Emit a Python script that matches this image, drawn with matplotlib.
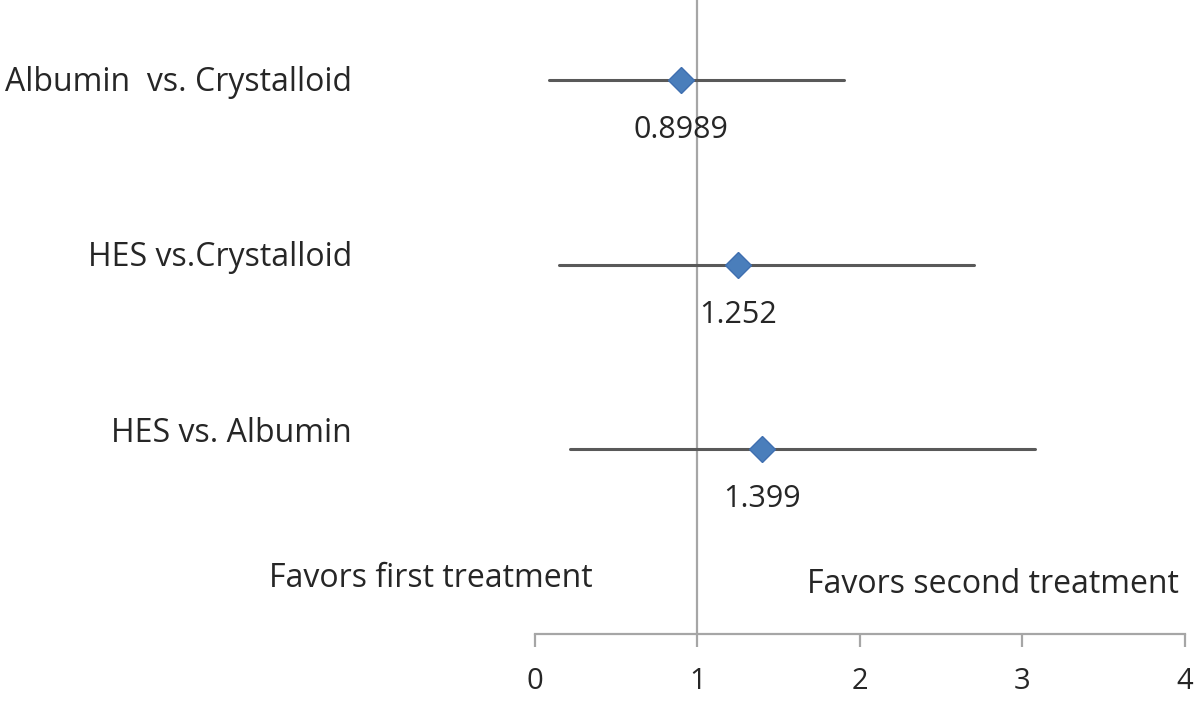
import matplotlib.pyplot as plt

# Forest plot data (odds ratio with 95% CI)
comparisons = ['Albumin  vs. Crystalloid', 'HES vs.Crystalloid', 'HES vs. Albumin']
estimates = [0.8989, 1.252, 1.399]
lower_ci = [0.086, 0.148, 0.215]
upper_ci = [1.90, 2.70, 3.08]
value_labels = ['0.8989', '1.252', '1.399']
rows = [3, 2, 1]
x_ticks = [0, 1, 2, 3, 4]

plt.rcParams['font.family'] = ['Open Sans', 'DejaVu Sans']

fig = plt.figure(figsize=(12, 7.02), dpi=100)
ax = fig.add_axes([0.4458, 0.0969, 0.5417, 0.9031])

# reference line at 1
ax.axvline(1, color='#a6a6a6', lw=1.6, zorder=1)

# confidence intervals and point estimates
for y, est, lo, hi, lab in zip(rows, estimates, lower_ci, upper_ci, value_labels):
    ax.plot([lo, hi], [y, y], color='#595959', lw=2.2, solid_capstyle='round', zorder=2)
    ax.plot(est, y, marker='D', ms=13, color='#4a7ebb', mec='#3f6fb0', zorder=3)
    ax.annotate(lab, (est, y), xytext=(0, -36), textcoords='offset points',
                ha='center', va='center', fontsize=22, color='#262626')

# row labels to the left of the plot
label_y = [2.989, 2.038, 1.087]
for name, y in zip(comparisons, label_y):
    ax.text(-1.126, y, name, ha='right', va='center', fontsize=23,
            color='#262626', clip_on=False)

ax.text(-0.64, 0.3, 'Favors first treatment', ha='center', va='center',
        fontsize=23, color='#262626', clip_on=False)
ax.text(2.82, 0.27, 'Favors second treatment', ha='center', va='center',
        fontsize=23, color='#262626', clip_on=False)

ax.set_xlim(0, 4)
ax.set_ylim(0, 3.435)
ax.set_xticks(x_ticks)
ax.set_yticks([])
for side in ['top', 'right', 'left']:
    ax.spines[side].set_visible(False)
ax.spines['bottom'].set_color('#a6a6a6')
ax.spines['bottom'].set_linewidth(1.6)
ax.tick_params(axis='x', direction='out', length=9, width=1.6, color='#a6a6a6',
               labelsize=21, labelcolor='#262626', pad=15)

plt.savefig('out.png', dpi=100)
